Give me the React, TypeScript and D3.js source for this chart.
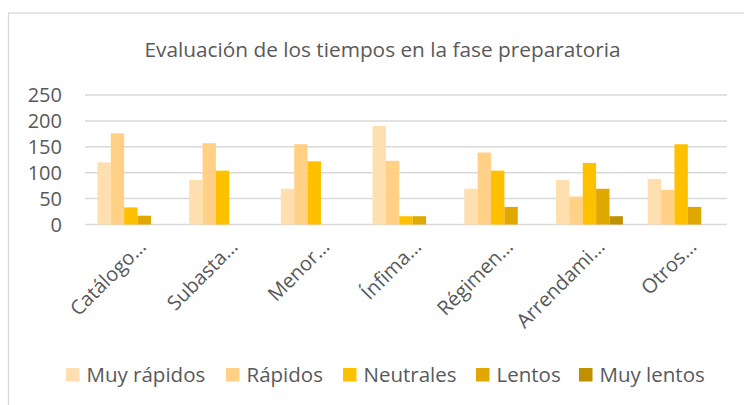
import React from "react";
import * as d3 from "d3";

const categories = ["Catálogo…", "Subasta…", "Menor…", "Ínfima…", "Régimen…", "Arrendami…", "Otros…"];
const seriesNames = ["Muy rápidos", "Rápidos", "Neutrales", "Lentos", "Muy lentos"];
const muyRapidos = [120, 86, 69, 190, 69, 86, 88];
const rapidos = [176, 157, 155, 123, 139, 54, 67];
const neutrales = [33, 104, 122, 16, 104, 119, 155];
const lentos = [17, 0, 0, 16, 34, 69, 34];
const muyLentos = [0, 0, 0, 0, 0, 16, 0];
const yTicks = [0, 50, 100, 150, 200, 250];
const colors = ["#FFDFB0", "#FFD085", "#FFC000", "#E0A800", "#C09000"];

const W = 744;
const H = 405;
const FONT = "'Open Sans', sans-serif";
const TEXT = "#595959";

export default function App() {
  const series = [muyRapidos, rapidos, neutrales, lentos, muyLentos];
  const x0 = d3.scaleBand<string>().domain(categories).range([85, 727]).paddingInner(0.27).paddingOuter(0.135);
  const x1 = d3.scaleBand<number>().domain(d3.range(series.length)).range([0, x0.bandwidth()]);
  const y = d3.scaleLinear().domain([0, 250]).range([224.5, 95]);

  const legendX = [66, 226, 343, 476, 579];

  return (
    <svg width={W} height={H} style={{ position: "absolute", left: 0, top: 0 }}>
      <rect x={0} y={0} width={W} height={H} fill="#fff" />
      <rect x={8.5} y={13} width={W + 10} height={H + 10} fill="none" stroke="#D9D9D9" strokeWidth={1.3} />
      <text x={382.5} y={56.5} textAnchor="middle" fontFamily={FONT} fontSize={20.8} fill={TEXT}>
        Evaluación de los tiempos en la fase preparatoria
      </text>
      {yTicks.map((t) => (
        <g key={t}>
          <line x1={85} x2={727} y1={y(t)} y2={y(t)} stroke="#D9D9D9" strokeWidth={1.5} />
          <text x={62} y={y(t)} dy="0.36em" textAnchor="end" fontFamily={FONT} fontSize={20} fill={TEXT}>
            {t}
          </text>
        </g>
      ))}
      {categories.map((c, ci) => (
        <g key={c} transform={`translate(${x0(c)},0)`}>
          {series.map((s, si) =>
            s[ci] > 0 ? (
              <rect
                key={si}
                x={x1(si)}
                y={y(s[ci])}
                width={x1.bandwidth()}
                height={y(0) - y(s[ci])}
                fill={colors[si]}
              />
            ) : null
          )}
        </g>
      ))}
      {categories.map((c) => {
        const cx = (x0(c) as number) + x0.bandwidth() / 2;
        return (
          <text
            key={c}
            transform={`translate(${cx + 16.5},${248}) rotate(-45)`}
            textAnchor="end"
            fontFamily={FONT}
            fontSize={20}
            fill={TEXT}
          >
            {c}
          </text>
        );
      })}
      {seriesNames.map((n, i) => (
        <g key={n}>
          <rect x={legendX[i]} y={368} width={13.5} height={13.5} fill={colors[i]} />
          <text x={legendX[i] + 20.5} y={375} dy="0.36em" fontFamily={FONT} fontSize={20.5} fill={TEXT}>
            {n}
          </text>
        </g>
      ))}
    </svg>
  );
}
